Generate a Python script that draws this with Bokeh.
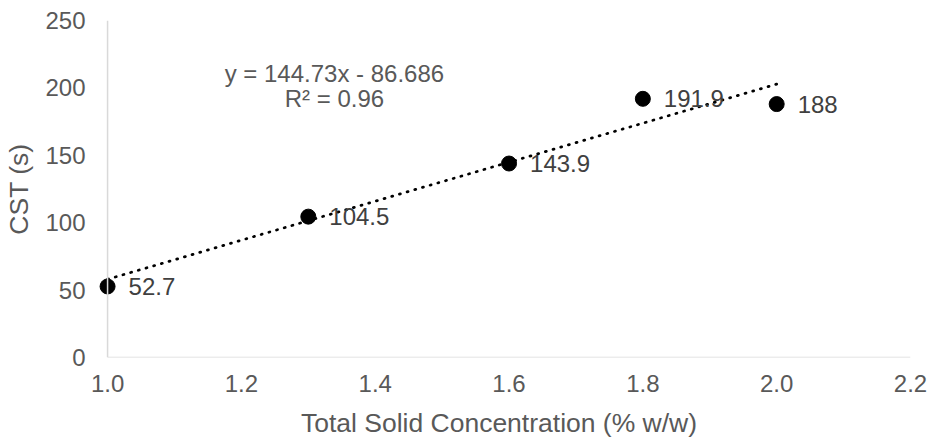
from bokeh.plotting import figure
from bokeh.models import ColumnDataSource, Range1d, FixedTicker, LabelSet, Label, Span
from bokeh.core.properties import value
from bokeh.embed import file_html
from bokeh.resources import INLINE

# Data
tsc = [1.0, 1.3, 1.6, 1.8, 2.0]
cst = [52.7, 104.5, 143.9, 191.9, 188.0]
labels = ["52.7", "104.5", "143.9", "191.9", "188"]
x_ticks = [1.0, 1.2, 1.4, 1.6, 1.8, 2.0, 2.2]
y_ticks = [0, 50, 100, 150, 200, 250]
slope = 144.73
intercept = -86.686
r2 = 0.96
trend_x = [1.0, 2.0]

FONT = "Liberation Sans"
GREY = "#595959"
AXIS = "#d9d9d9"

# x range starts a little before 1.0 so the first marker is not clipped
p = figure(width=931, height=441, output_backend="svg", toolbar_location=None,
           x_range=Range1d(0.97, 2.2), y_range=Range1d(0, 250),
           min_border_left=87, min_border_right=21, min_border_top=20, min_border_bottom=84)
p.outline_line_color = None
p.grid.visible = False
p.background_fill_color = "white"

for ax in (p.xaxis[0], p.yaxis[0]):
    ax.axis_line_color = None
    ax.major_tick_line_color = None
    ax.minor_tick_line_color = None
    ax.major_tick_out = 0
    ax.major_tick_in = 0
    ax.major_label_text_font = FONT
    ax.major_label_text_font_size = "24px"
    ax.major_label_text_color = GREY
    ax.axis_label_text_font = FONT
    ax.axis_label_text_font_size = "26.5px"
    ax.axis_label_text_color = GREY
    ax.axis_label_text_font_style = "normal"

p.xaxis.ticker = FixedTicker(ticks=x_ticks)
p.yaxis.ticker = FixedTicker(ticks=y_ticks)
p.xaxis.major_label_overrides = {t: f"{t:.1f}" for t in x_ticks}
p.xaxis.major_label_standoff = 17
p.yaxis.major_label_standoff = 2
p.xaxis.axis_label = "Total Solid Concentration (% w/w)"
p.yaxis.axis_label = "CST (s)"
p.xaxis.axis_label_standoff = 13
p.yaxis.axis_label_standoff = 8

# Axis lines at x = 1.0 and y = 0
p.add_layout(Span(location=x_ticks[0], dimension="height", line_color=AXIS, line_width=1.5))
p.segment(x0=[x_ticks[0]], y0=[y_ticks[0]], x1=[x_ticks[-1]], y1=[y_ticks[0]],
          line_color=AXIS, line_width=1.5)

# Trendline
trend_y = [slope * x + intercept for x in trend_x]
p.line(trend_x, trend_y, line_color="black", line_width=2.75, line_dash="1 7", line_cap="round")

src = ColumnDataSource(dict(x=tsc, y=cst, lab=labels))
p.scatter("x", "y", source=src, size=15, fill_color="black", line_color="black")
p.add_layout(LabelSet(x="x", y="y", text="lab", source=src, x_offset=21, y_offset=0,
                      text_font=value(FONT), text_font_size=value("24px"), text_color="#404040",
                      text_baseline="middle", text_align="left"))

eq = f"y = {slope}x - {abs(intercept)}"
p.add_layout(Label(x=1.339, y=211, text=eq, text_font=FONT, text_font_size="24px",
                   text_color=GREY, text_align="center", text_baseline="middle"))
p.add_layout(Label(x=1.339, y=192.4, text=f"R² = {r2}", text_font=FONT, text_font_size="24px",
                   text_color=GREY, text_align="center", text_baseline="middle"))

open("out.html", "w").write(file_html(p, INLINE))
